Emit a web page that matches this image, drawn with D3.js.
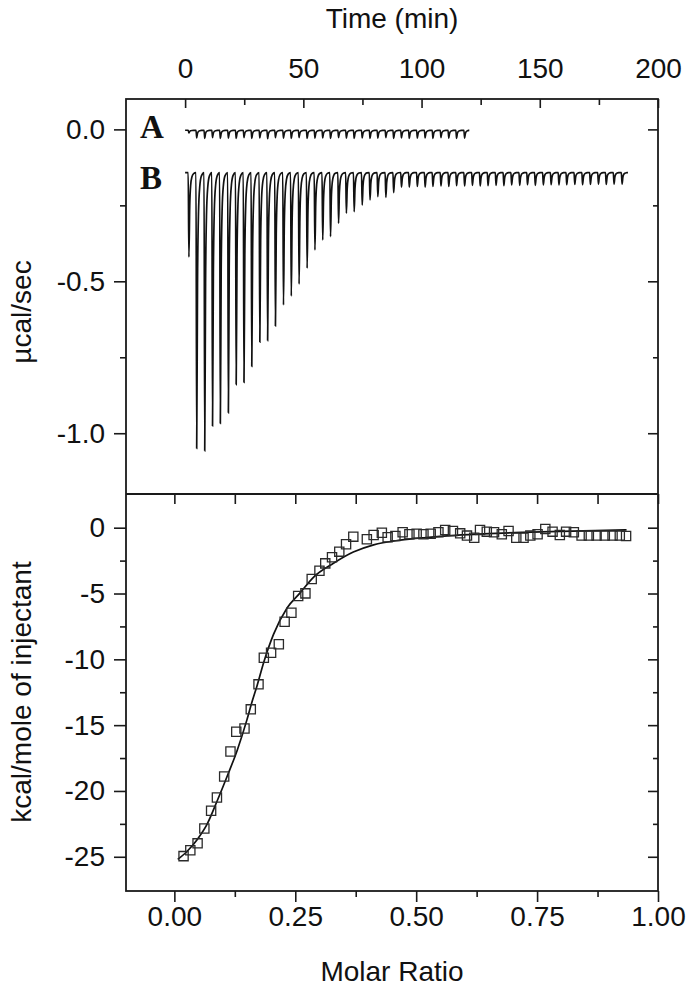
<!DOCTYPE html>
<html><head><meta charset="utf-8">
<script src="https://cdn.jsdelivr.net/npm/d3@7"></script>
<style>body{margin:0;background:#fff}</style>
</head><body><svg id="c" width="696" height="989"></svg>
<script>
// ---------- data ----------
const injTimes = [1.3,4.6,8.0,11.3,14.6,18.0,21.3,24.6,27.9,31.3,34.6,37.9,41.3,44.6,47.9,51.3,54.6,57.9,61.2,64.6,67.9,71.2,74.6,77.9,81.2,84.6,87.9,91.2,94.5,97.9,101.2,104.5,107.9,111.2,114.5,117.9,121.2,124.5,127.8,131.2,134.5,137.8,141.2,144.5,147.8,151.2,154.5,157.8,161.1,164.5,167.8,171.1,174.5,177.8,181.1,184.5];
const traceAMin = [-0.012,-0.028,-0.03,-0.027,-0.03,-0.029,-0.03,-0.027,-0.03,-0.028,-0.031,-0.027,-0.029,-0.03,-0.027,-0.03,-0.029,-0.028,-0.03,-0.027,-0.029,-0.03,-0.028,-0.03,-0.029,-0.027,-0.03,-0.028,-0.03,-0.029,-0.028,-0.03,-0.027,-0.029,-0.03,-0.029];
const traceBMin = [-0.42,-1.05,-1.058,-0.976,-0.968,-0.933,-0.84,-0.833,-0.78,-0.70,-0.695,-0.647,-0.578,-0.549,-0.509,-0.457,-0.397,-0.364,-0.353,-0.309,-0.276,-0.271,-0.249,-0.232,-0.221,-0.224,-0.208,-0.19,-0.19,-0.188,-0.19,-0.188,-0.186,-0.188,-0.185,-0.186,-0.184,-0.186,-0.185,-0.184,-0.185,-0.183,-0.184,-0.182,-0.184,-0.183,-0.182,-0.183,-0.182,-0.181,-0.182,-0.181,-0.18,-0.181,-0.18,-0.18];
const traceABase = -0.003, traceBBase = -0.142;
const traceAEnd = 119.5, traceBEnd = 187.3;

const molarRatio = [0.019,0.033,0.048,0.062,0.076,0.088,0.103,0.116,0.128,0.145,0.158,0.174,0.185,0.200,0.216,0.228,0.242,0.256,0.271,0.284,0.300,0.312,0.326,0.341,0.355,0.370,0.398,0.412,0.429,0.441,0.457,0.472,0.486,0.501,0.515,0.530,0.546,0.560,0.576,0.591,0.605,0.620,0.632,0.646,0.661,0.677,0.691,0.707,0.722,0.736,0.751,0.767,0.782,0.797,0.810,0.826,0.842,0.857,0.873,0.890,0.906,0.921,0.934];
const heat = [-24.95,-24.5,-23.98,-22.85,-21.5,-20.5,-18.9,-17.0,-15.5,-15.25,-13.8,-11.9,-9.88,-9.5,-8.86,-7.14,-6.46,-5.19,-4.99,-3.9,-3.27,-2.71,-2.25,-1.82,-1.26,-0.68,-0.88,-0.55,-0.38,-0.73,-0.63,-0.35,-0.5,-0.46,-0.5,-0.46,-0.35,-0.17,-0.25,-0.43,-0.6,-0.76,-0.17,-0.3,-0.35,-0.5,-0.25,-0.76,-0.76,-0.6,-0.5,-0.1,-0.3,-0.55,-0.3,-0.35,-0.6,-0.6,-0.6,-0.6,-0.6,-0.6,-0.63];
const fitRatio = [0.007,0.026,0.047,0.068,0.088,0.109,0.130,0.150,0.160,0.171,0.185,0.205,0.233,0.260,0.288,0.329,0.370,0.412,0.467,0.52,0.58,0.65,0.72,0.80,0.87,0.935];
const fitHeat = [-25.2,-24.6,-23.7,-22.5,-20.8,-18.9,-16.9,-14.6,-13.3,-12.0,-10.2,-8.1,-6.1,-4.95,-3.75,-2.7,-1.85,-1.3,-0.95,-0.75,-0.58,-0.45,-0.36,-0.28,-0.22,-0.17];

const timeTicks = [0,50,100,150,200];
const timeMinor = [25,75,125,175];
const powerTicks = [0.0,-0.5,-1.0];
const powerMinor = [-0.25,-0.75];
const ratioTicks = [0,0.25,0.5,0.75,1.0];
const ratioMinor = [0.125,0.375,0.625,0.875];
const heatTicks = [0,-5,-10,-15,-20,-25];
const heatMinor = [-2.5,-7.5,-12.5,-17.5,-22.5];

// ---------- layout ----------
const L=126, R=658, T=99, M=494, B=891;
const FONT = "'Liberation Sans', Arial, sans-serif";
const svg = d3.select("#c");
svg.append("rect").attr("width",696).attr("height",989).attr("fill","#fff");

const xT = d3.scaleLinear([-25,200],[L,R]);
const yP = d3.scaleLinear([-1.2,0.1],[M,T]);
const xR = d3.scaleLinear([-0.1,1.0],[L,R]);
const yH = d3.scaleLinear([-27.6,2.56],[B,M]);

function style(g){
  g.select(".domain").remove();
  g.selectAll("line").attr("stroke","#1a1a1a").attr("stroke-width",1.6);
  g.selectAll("text").attr("fill","#111").style("font-family",FONT).style("font-size","28px");
}
const noLab = () => "";
const hy = d => (d<0?"-":"") + Math.abs(d);

// upper panel axes
svg.append("g").attr("transform",`translate(0,${T})`)
  .call(d3.axisTop(xT).tickValues(timeTicks).tickSize(-9).tickPadding(21).tickFormat(d=>d)).call(style);
svg.append("g").attr("transform",`translate(0,${T})`)
  .call(d3.axisTop(xT).tickValues(timeMinor).tickSize(-6).tickFormat(noLab)).call(style);
svg.append("g").attr("transform",`translate(${L},0)`)
  .call(d3.axisLeft(yP).tickValues(powerTicks).tickSize(12).tickPadding(9).tickFormat(d=>(d<0?"-":"")+Math.abs(d).toFixed(1))).call(style);
svg.append("g").attr("transform",`translate(${L},0)`)
  .call(d3.axisLeft(yP).tickValues(powerMinor).tickSize(6).tickFormat(noLab)).call(style);
svg.append("g").attr("transform",`translate(${R},0)`)
  .call(d3.axisRight(yP).tickValues(powerTicks).tickSize(-10).tickFormat(noLab)).call(style);
svg.append("g").attr("transform",`translate(${R},0)`)
  .call(d3.axisRight(yP).tickValues(powerMinor).tickSize(-5).tickFormat(noLab)).call(style);

// lower panel axes
svg.append("g").attr("transform",`translate(0,${M})`)
  .call(d3.axisBottom(xR).tickValues(ratioTicks.concat(ratioMinor)).tickSize(10).tickFormat(noLab)).call(style);
svg.append("g").attr("transform",`translate(0,${B})`)
  .call(d3.axisBottom(xR).tickValues(ratioTicks).tickSize(11).tickPadding(4).tickFormat(d3.format(".2f"))).call(style);
svg.append("g").attr("transform",`translate(0,${B})`)
  .call(d3.axisBottom(xR).tickValues(ratioMinor).tickSize(6).tickFormat(noLab)).call(style);
svg.append("g").attr("transform",`translate(${L},0)`)
  .call(d3.axisLeft(yH).tickValues(heatTicks).tickSize(12).tickPadding(9).tickFormat(hy)).call(style);
svg.append("g").attr("transform",`translate(${L},0)`)
  .call(d3.axisLeft(yH).tickValues(heatMinor).tickSize(6).tickFormat(noLab)).call(style);
svg.append("g").attr("transform",`translate(${R},0)`)
  .call(d3.axisRight(yH).tickValues(heatTicks).tickSize(-10).tickFormat(noLab)).call(style);
svg.append("g").attr("transform",`translate(${R},0)`)
  .call(d3.axisRight(yH).tickValues(heatMinor).tickSize(-5).tickFormat(noLab)).call(style);

// frame
svg.append("rect").attr("x",L).attr("y",T).attr("width",R-L).attr("height",B-T)
  .attr("fill","none").attr("stroke","#1a1a1a").attr("stroke-width",1.8);
svg.append("line").attr("x1",L).attr("x2",R).attr("y1",M).attr("y2",M)
  .attr("stroke","#1a1a1a").attr("stroke-width",1.8);

// thermogram traces
function trace(mins, base, tEnd){
  const pts = [[0, base]];
  mins.forEach((m,i)=>{
    const t0 = injTimes[i], d = m - base;
    pts.push([t0, base],[t0+0.3, m],[t0+0.65, base+d*0.4],[t0+1.05, base+d*0.15],
             [t0+1.6, base+d*0.05],[t0+2.3, base+d*0.012]);
  });
  pts.push([tEnd, base]);
  return pts;
}
const tl = d3.line().x(d=>xT(d[0])).y(d=>yP(d[1])).curve(d3.curveMonotoneX);
svg.append("path").attr("d", tl(trace(traceAMin, traceABase, traceAEnd)))
  .attr("fill","none").attr("stroke","#111").attr("stroke-width",1.6);
svg.append("path").attr("d", tl(trace(traceBMin, traceBBase, traceBEnd)))
  .attr("fill","none").attr("stroke","#111").attr("stroke-width",1.7);

svg.append("text").attr("x",140).attr("y",138).text("A")
  .style("font-family","'Liberation Serif', 'Times New Roman', serif").style("font-weight","bold").style("font-size","33px").attr("fill","#111");
svg.append("text").attr("x",140).attr("y",189).text("B")
  .style("font-family","'Liberation Serif', 'Times New Roman', serif").style("font-weight","bold").style("font-size","33px").attr("fill","#111");

// binding isotherm
const fl = d3.line().x((d,i)=>xR(fitRatio[i])).y((d,i)=>yH(fitHeat[i])).curve(d3.curveMonotoneX);
svg.append("path").attr("d", fl(fitRatio)).attr("fill","none").attr("stroke","#111").attr("stroke-width",1.7);
svg.append("g").selectAll("path").data(molarRatio).join("path")
  .attr("transform",(d,i)=>`translate(${xR(d)},${yH(heat[i])})`)
  .attr("d", d3.symbol(d3.symbolSquare, 85)())
  .attr("fill","none").attr("stroke","#2a2a2a").attr("stroke-width",1.3);

// titles
const title = (x,y,txt,rot) => svg.append("text").attr("transform",`translate(${x},${y})${rot?" rotate(-90)":""}`)
  .attr("text-anchor","middle").text(txt).attr("fill","#111")
  .style("font-family",FONT).style("font-size","28px");
title(392,28,"Time (min)");
title(392,981,"Molar Ratio");
title(31,312,"µcal/sec",true);
title(31,692,"kcal/mole of injectant",true);
</script></body></html>
